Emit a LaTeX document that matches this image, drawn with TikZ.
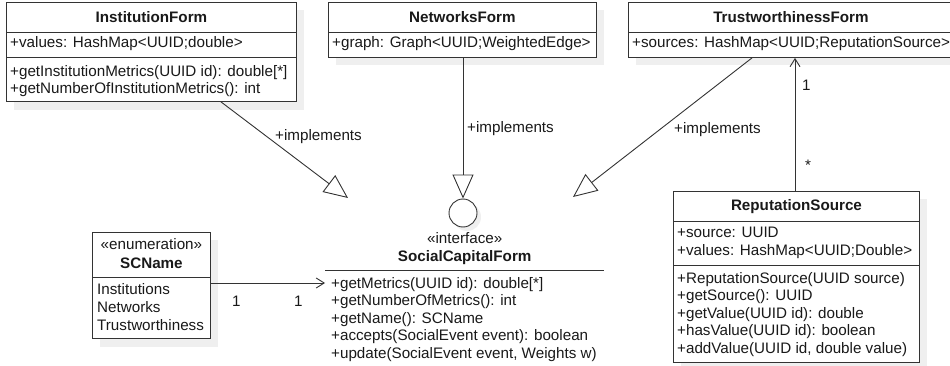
\documentclass[tikz,border=0pt]{standalone}
\usepackage{fontspec}
\setmainfont{Liberation Sans}
\usetikzlibrary{arrows.meta}
\definecolor{shadowc}{HTML}{EFEFEF}
\definecolor{linec}{HTML}{333333}
\newcommand\umllines[5]{% name, x, first baseline, spacing, list
  \foreach \t [count=\i from 0] in {#5} {
    \node[txt] (#1-\i) at (#2, #3+\i*#4) {\t};
  }}
\begin{document}
\begin{tikzpicture}[x=1pt,y=-1pt,
  box/.style={draw=linec, line width=0.9pt, fill=white, inner sep=0, anchor=north west},
  txt/.style={inner sep=0, anchor=base west, font=\fontsize{15.2}{17.5}\selectfont, text=black!90},
  ttl/.style={txt, anchor=base},
  conn/.style={draw=linec, line width=0.9pt},
  impl/.style={conn, -{Triangle[open,length=24pt,width=21pt]}},
  assoc/.style={conn, -{Straight Barb[length=8pt,width=10pt]}}]
\useasboundingbox (0,0) rectangle (950,366);

% shadows
\fill[shadowc] (14,10) rectangle (304,110);
\fill[shadowc] (336,10) rectangle (604,65);
\fill[shadowc] (636,10) rectangle (961,65);
\fill[shadowc] (100,240) rectangle (218,347);
\fill[shadowc] (681,199) rectangle (927,371);
\fill[shadowc] (467,217) circle (14);

% class boxes
\node[box, minimum width=290pt, minimum height=99pt] (inst) at (6,2) {};
\node[box, minimum width=268pt, minimum height=55pt] (net) at (328,2) {};
\node[box, minimum width=325pt, minimum height=55pt] (trust) at (628,2) {};
\node[box, minimum width=118pt, minimum height=106pt] (scname) at (92,232) {};
\node[box, minimum width=246pt, minimum height=171pt] (rep) at (673,191) {};
\node[inner sep=0, minimum width=279pt, minimum height=150pt, anchor=north west] (scf) at (325,228) {};
\node[circle, draw=linec, line width=0.9pt, fill=white, minimum size=28pt, inner sep=0] (lollipop) at (463,213) {};

% compartment separators
\draw[conn] (inst.west |- 0,32) -- (inst.east |- 0,32);
\draw[conn] (inst.west |- 0,57) -- (inst.east |- 0,57);
\draw[conn] (net.west |- 0,32) -- (net.east |- 0,32);
\draw[conn] (trust.west |- 0,32) -- (trust.east |- 0,32);
\draw[conn] (scname.west |- 0,277) -- (scname.east |- 0,277);
\draw[conn] (rep.west |- 0,221) -- (rep.east |- 0,221);
\draw[conn] (rep.west |- 0,265) -- (rep.east |- 0,265);
\draw[conn] (scf.west |- 0,270) -- (scf.east |- 0,270);

% InstitutionForm
\node[ttl] (inst-t) at (inst.north |- 0,23) {\bfseries InstitutionForm};
\node[txt] (inst-a) at (10,48) {+values: HashMap<UUID;double>};
\umllines{instm}{10}{77}{17}{{+getInstitutionMetrics(UUID id): double[*]},{+getNumberOfInstitutionMetrics(): int}}

% NetworksForm
\node[ttl] (net-t) at (net.north |- 0,23) {\bfseries NetworksForm};
\node[txt] (net-a) at (332,48) {+graph: Graph<UUID;WeightedEdge>};

% TrustworthinessForm
\node[ttl] (trust-t) at (trust.north |- 0,23) {\bfseries TrustworthinessForm};
\node[txt] (trust-a) at (632,48) {+sources: HashMap<UUID;ReputationSource>};

% SCName
\node[ttl] (sc-s) at (scname.north |- 0,249) {«enumeration»};
\node[ttl] (sc-t) at (scname.north |- 0,268) {\bfseries SCName};
\umllines{scl}{97}{294}{18}{Institutions,Networks,Trustworthiness}

% ReputationSource
\node[ttl] (rep-t) at (rep.north |- 0,211) {\bfseries ReputationSource};
\umllines{repa}{677}{237}{18}{{+source: UUID},{+values: HashMap<UUID;Double>}}
\umllines{repm}{677}{283}{17.5}{{+ReputationSource(UUID source)},{+getSource(): UUID},{+getValue(UUID id): double},{+hasValue(UUID id): boolean},{+addValue(UUID id, double value)}}

% SocialCapitalForm interface
\node[ttl] (scf-s) at (scf.north |- 0,243) {«interface»};
\node[ttl] (scf-t) at (scf.north |- 0,261) {\bfseries SocialCapitalForm};
\umllines{scfm}{331}{288}{17.5}{{+getMetrics(UUID id): double[*]},{+getNumberOfMetrics(): int},{+getName(): SCName},{+accepts(SocialEvent event): boolean},{+update(SocialEvent event, Weights w)}}

% connectors
\coordinate (tipI) at (348,198);
\coordinate (tipT) at (573,197);
\draw[impl] (inst.south -| 221,0) -- (tipI);
\draw[impl] (net.south -| lollipop.north) -- (lollipop.north);
\draw[impl] (trust.south -| 752,0) -- (tipT);
\draw[assoc] (rep.north -| 795,0) -- (trust.south -| 795,0);
\draw[assoc] (scname.east |- 0,283) -- (scf.west |- 0,283);

% labels
\node[txt] (lblI) at (275,141) {+implements};
\node[txt] (lblN) at (467,133) {+implements};
\node[txt] (lblT) at (674,134) {+implements};
\node[txt] (mul1) at (802,91) {1};
\node[txt] (mul2) at (805,171) {*};
\node[txt] (mul3) at (232,306) {1};
\node[txt] (mul4) at (294,306) {1};
\end{tikzpicture}
\end{document}
